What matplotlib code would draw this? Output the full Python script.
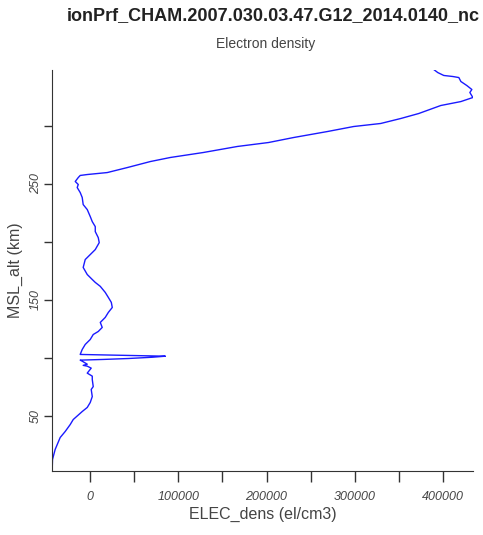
import numpy as np
import matplotlib
matplotlib.use('Agg')
import matplotlib.pyplot as plt

plt.rcParams['font.family'] = ['Liberation Sans', 'DejaVu Sans']

# electron density profile (el/cm3) vs altitude (km)
elec_dens = [-43200, -42800, -39800, -34100, -28400, -22700, -19300, -9100, -3400, 0,
             2300, 1100, 3400, 2300, 2300, -3400, 1100, -3400, -8000, -3400, -9100, -11400,
             14800, 43200, 70500, 85200, -11400,
             -9100, -5700, 0, 3400, 9100, 13600, 11400, 17000, 20500, 25000, 23900, 20500,
             17000, 11400, 5700, 2300, -3400, -8000, -5700, 0, 5700, 10200, 9100, 5700,
             5700, 2300, 0, -3400, -8000, -9100, -11400, -14800, -13600, -17000, -13600,
             -11400, -3400, 19300, 42000, 68200, 90900, 128400, 167000, 202300, 230700,
             269300, 298900, 329500, 352300, 372700, 397700, 420500, 434100, 430700,
             432950, 427300, 420500, 418200, 411400, 401100, 394300, 389800]
msl_alt = [2.6, 12.4, 21.0, 31.3, 36.5, 42.5, 46.8, 53.7, 57.2, 61.5,
           66.6, 72.7, 75.2, 81.3, 84.2, 86.8, 91.1, 92.8, 93.5, 94.5, 97.1, 98.0,
           98.6, 99.4, 100.5, 101.4, 102.9,
           107.2, 111.5, 115.8, 120.1, 122.7, 126.2, 130.5, 134.8, 139.1, 143.4, 147.8, 152.1,
           156.4, 161.6, 165.0, 167.5, 171.8, 177.9, 184.7, 189.0, 193.3, 199.3, 203.6, 208.8,
           213.1, 217.4, 221.8, 227.8, 232.1, 238.2, 242.5, 246.8, 249.4, 252.0, 255.4,
           257.2, 258.0, 259.7, 264.0, 269.2, 272.7, 277.0, 282.2, 285.6, 289.9,
           295.1, 299.4, 302.0, 306.3, 310.6, 317.5, 320.9, 324.4, 328.7,
           331.3, 334.7, 338.2, 341.6, 342.5, 343.4, 345.9, 348.5]

x_ticks = [0, 50000, 100000, 150000, 200000, 250000, 300000, 350000, 400000]
x_labels = ['0', '', '100000', '', '200000', '', '300000', '', '400000']
y_ticks = [50, 100, 150, 200, 250, 300]
y_labels = ['50', '', '150', '', '250', '']

fig = plt.figure(figsize=(4.83, 5.35), dpi=100)
ax = fig.add_axes([0.108, 0.12, 0.871, 0.75])

ax.plot(elec_dens, msl_alt, color='#1a1aff', lw=1.0)
ax.set_xlim(min(elec_dens), max(elec_dens))
ax.set_ylim(min(msl_alt), max(msl_alt))

ax.spines['top'].set_visible(False)
ax.spines['right'].set_visible(False)
ax.spines['left'].set_color('#333333')
ax.spines['bottom'].set_color('#333333')

ax.set_xticks(x_ticks)
ax.set_xticklabels(x_labels, fontstyle='italic', color='#444444', fontsize=9)
ax.set_yticks(y_ticks)
ax.set_yticklabels(y_labels, fontstyle='italic', color='#444444', fontsize=9,
                   rotation=90, va='center')
ax.tick_params(axis='x', direction='out', length=8, width=1, color='#333333', pad=6.5)
ax.tick_params(axis='y', direction='out', length=6, width=1, color='#333333', pad=1.5)

ax.set_xlabel('ELEC_dens (el/cm3)', fontsize=11.5, color='#444444', labelpad=2.5)
ax.set_ylabel('MSL_alt (km)', fontsize=11.5, color='#444444', labelpad=5)

fig.text(0.565, 0.971, 'ionPrf_CHAM.2007.030.03.47.G12_2014.0140_nc', ha='center', va='center',
         fontsize=13, fontweight='bold', color='#222222')
fig.text(0.549, 0.917, 'Electron density', ha='center', va='center',
         fontsize=10, color='#444444')

fig.savefig('out.png', dpi=100)
